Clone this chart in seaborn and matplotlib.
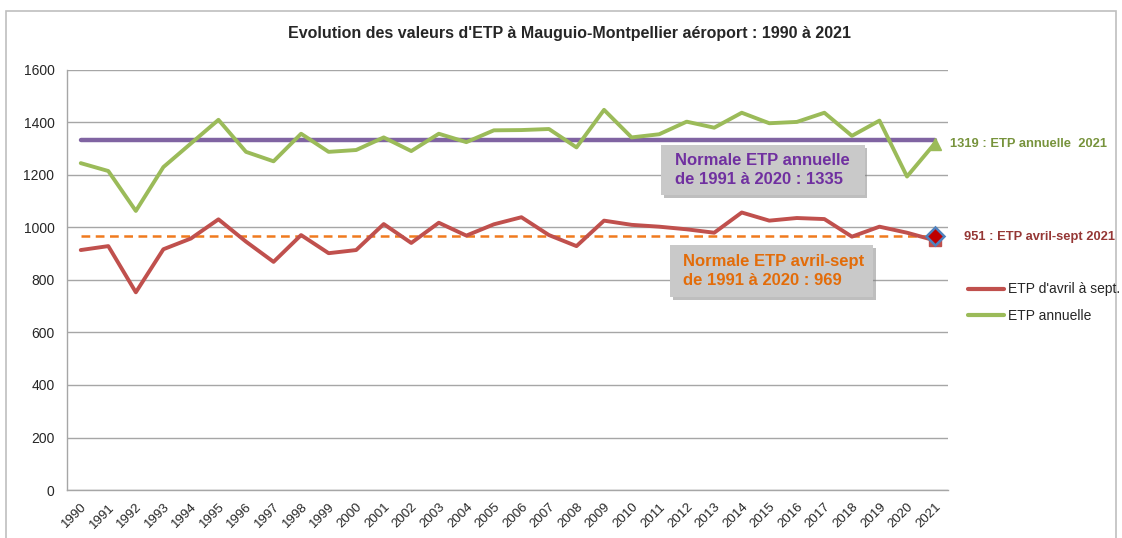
import numpy as np
import pandas as pd
import matplotlib
matplotlib.use("Agg")
import matplotlib.pyplot as plt
import matplotlib.patheffects as pe
from matplotlib.patches import Rectangle
from matplotlib.lines import Line2D
import seaborn as sns

# data
years = list(range(1990, 2022))
etp_annuelle = [1245, 1215, 1063, 1230, 1320, 1410, 1288, 1252, 1357, 1288,
                1295, 1343, 1291, 1357, 1325, 1370, 1371, 1375, 1305, 1448,
                1343, 1355, 1403, 1380, 1437, 1397, 1402, 1437, 1349, 1407,
                1194, 1319]
etp_avril_sept = [914, 929, 753, 917, 958, 1031, 946, 869, 971, 902,
                  914, 1013, 941, 1018, 969, 1012, 1039, 971, 929, 1026,
                  1010, 1003, 993, 980, 1057, 1026, 1036, 1032, 965, 1003,
                  980, 951]
normale_annuelle = 1335
normale_avril_sept = 969

sns.set_style("white")
plt.rcParams["font.family"] = ["Liberation Sans", "DejaVu Sans"]

df = pd.DataFrame({
    "pos": np.arange(len(years)),
    "ETP d'avril à sept.": etp_avril_sept,
    "ETP annuelle": etp_annuelle,
})

RED = "#C0504D"
GREEN = "#9BBB59"
PURPLE = "#8064A2"
ORANGE = "#F07A1E"
GRID = "#A6A6A6"

fig = plt.figure(figsize=(11.22, 5.38), dpi=100)
ax = fig.add_axes([0.0597, 0.0892, 0.7855, 0.7808])

# chart area border
fig.patches.append(Rectangle((0.005, -0.01), 0.99, 0.99, transform=fig.transFigure,
                             fill=False, ec="#BFBFBF", lw=1.2))

n = len(years)
# normals
ax.plot([0, n - 1], [normale_annuelle] * 2, color=PURPLE, lw=3.2, zorder=3)
ax.plot([0, n - 1], [normale_avril_sept] * 2, color=ORANGE, lw=1.8, ls=(0, (3.5, 2.2)), zorder=3)

sns.lineplot(data=df, x="pos", y="ETP d'avril à sept.", color=RED, lw=2.8, ax=ax, zorder=4)
sns.lineplot(data=df, x="pos", y="ETP annuelle", color=GREEN, lw=2.8, ax=ax, zorder=4)

# end markers for 2021
ax.plot(n - 1, etp_avril_sept[-1], marker="s", ms=8, color=RED, mec=RED, zorder=5)
ax.plot(n - 1, normale_avril_sept, marker="D", ms=9, color="#C00000", mec="#4F81BD", mew=1.8, zorder=6)
ax.plot(n - 1, etp_annuelle[-1], marker="^", ms=9, color=GREEN, mec=GREEN, zorder=5)

ax.set_xlim(-0.5, n - 0.5)
ax.set_ylim(0, 1600)
ax.set_yticks(range(0, 1601, 200))
ax.set_xticks(np.arange(n))
ax.set_xticklabels([str(y) for y in years], rotation=45, ha="right", va="top",
                   rotation_mode="anchor", fontsize=9.5)
ax.set_xticks(np.arange(n + 1) - 0.5, minor=True)
ax.tick_params(axis="x", which="major", length=0, pad=8)
ax.tick_params(axis="x", which="minor", length=5, width=1, color=GRID, direction="out")
ax.tick_params(axis="y", length=5, width=1, color=GRID, direction="out", labelsize=10, pad=4)
ax.set_xlabel("")
ax.set_ylabel("")
ax.yaxis.grid(True, color=GRID, lw=1)
ax.xaxis.grid(False)
for s in ["top", "right"]:
    ax.spines[s].set_visible(False)
for s in ["left", "bottom"]:
    ax.spines[s].set_color(GRID)
    ax.spines[s].set_linewidth(1)

fig.text(0.508, 0.938, "Evolution des valeurs d'ETP à Mauguio-Montpellier aéroport : 1990 à 2021",
         ha="center", va="center", fontsize=11.5, fontweight="bold")

# annotation boxes (grey with soft shadow)
shadow = [pe.SimplePatchShadow(offset=(2, -2), shadow_rgbFace="#7F7F7F", alpha=0.5), pe.Normal()]
box1 = Rectangle((21.06, 1124), 7.4, 190, fc="#C9C9C9", ec="none", zorder=7)
box2 = Rectangle((21.39, 735), 7.38, 198, fc="#C9C9C9", ec="none", zorder=7)
for b in (box1, box2):
    b.set_path_effects(shadow)
    ax.add_patch(b)
ax.text(21.58, 1219, "Normale ETP annuelle\nde 1991 à 2020 : 1335", color="#7030A0",
        fontsize=12, fontweight="bold", ha="left", va="center", linespacing=1.32, zorder=8)
ax.text(21.85, 835, "Normale ETP avril-sept\nde 1991 à 2020 : 969", color="#E36C09",
        fontsize=12, fontweight="bold", ha="left", va="center", linespacing=1.32, zorder=8)

# right side labels
fig.text(950 / 1122, 1 - 144 / 538, "1319 : ETP annuelle  2021", color="#77933C",
         fontsize=9.3, fontweight="bold", ha="left", va="center")
fig.text(964 / 1122, 1 - 237 / 538, "951 : ETP avril-sept 2021", color="#953735",
         fontsize=9.3, fontweight="bold", ha="left", va="center")

handles = [Line2D([], [], color=RED, lw=3), Line2D([], [], color=GREEN, lw=3)]
fig.legend(handles, ["ETP d'avril à sept.", "ETP annuelle"], loc="upper left",
           bbox_to_anchor=(955 / 1122, 1 - 270 / 538), frameon=False, fontsize=10,
           handlelength=2.6, handletextpad=0.3, labelspacing=0.9)

fig.savefig("out.png", dpi=100)
